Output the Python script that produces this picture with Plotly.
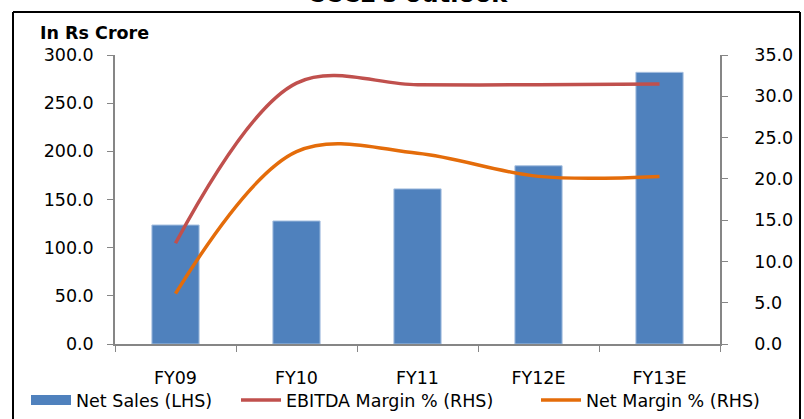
import plotly.graph_objects as go

# ---- data ----
categories = ["FY09", "FY10", "FY11", "FY12E", "FY13E"]
net_sales = [123.5, 127.7, 161.0, 185.0, 282.0]        # Rs crore (LHS)
ebitda_margin = [12.2, 31.6, 31.4, 31.4, 31.5]         # % (RHS)
net_margin = [6.1, 23.3, 23.1, 20.3, 20.3]             # % (RHS)
left_ticks = [0, 50, 100, 150, 200, 250, 300]
right_ticks = [0, 5, 10, 15, 20, 25, 30, 35]

# ---- page geometry (pixels) ----
W, H = 804, 419
L, R, T, B = 115, 84, 55, 75
PW, PH = W - L - R, H - T - B


def px_x(x):
    return (x - L) / PW


def px_y(y):
    return (H - B - y) / PH


FONT = "DejaVu Sans"
FS = 17.5
BLUE, RED, ORANGE = "#4F81BD", "#C0504D", "#E46C0A"
AXIS = "#868686"

fig = go.Figure()

fig.add_trace(go.Bar(
    x=categories, y=net_sales, name="Net Sales (LHS)",
    marker=dict(color=BLUE, line=dict(color="#A7C0E0", width=1)),
    showlegend=False, yaxis="y",
))
# legend swatch for the bars, drawn as a wide block
fig.add_trace(go.Scatter(
    x=[None], y=[None], mode="lines", name="Net Sales (LHS)",
    line=dict(color=BLUE, width=10), legend="legend", hoverinfo="skip",
))
fig.add_trace(go.Scatter(
    x=categories, y=ebitda_margin, name="EBITDA Margin % (RHS)",
    mode="lines", line=dict(color=RED, width=3.5, shape="spline", smoothing=1),
    yaxis="y2", legend="legend2",
))
fig.add_trace(go.Scatter(
    x=categories, y=net_margin, name="Net Margin % (RHS)",
    mode="lines", line=dict(color=ORANGE, width=3.5, shape="spline", smoothing=1),
    yaxis="y2", legend="legend3",
))

legend_common = dict(
    orientation="h", yanchor="middle", y=px_y(400), xanchor="left",
    bgcolor="rgba(0,0,0,0)", borderwidth=0, itemwidth=40,
    font=dict(family=FONT, size=FS, color="black"),
)

fig.update_layout(
    width=W, height=H,
    margin=dict(l=L, r=R, t=T, b=B, pad=0, autoexpand=False),
    paper_bgcolor="white", plot_bgcolor="white",
    font=dict(family=FONT, size=FS, color="black"),
    bargap=0.61,
    xaxis=dict(
        type="category", showgrid=False, zeroline=False,
        showline=True, linecolor=AXIS, linewidth=1.5,
        ticks="outside", tickson="boundaries", ticklen=6, tickcolor=AXIS,
        ticklabelstandoff=17,
        tickfont=dict(family=FONT, size=FS, color="black"),
    ),
    yaxis=dict(
        range=[0, 300], tickvals=left_ticks, tickformat=".1f",
        showgrid=False, zeroline=False,
        showline=True, linecolor=AXIS, linewidth=1.5,
        ticks="outside", ticklen=6, tickcolor=AXIS, ticklabelstandoff=10,
        tickfont=dict(family=FONT, size=FS, color="black"),
    ),
    yaxis2=dict(
        range=[0, 35], tickvals=right_ticks, tickformat=".1f",
        overlaying="y", side="right", showgrid=False, zeroline=False,
        showline=True, linecolor=AXIS, linewidth=1.5,
        ticks="outside", ticklen=6, tickcolor=AXIS, ticklabelstandoff=23,
        tickfont=dict(family=FONT, size=FS, color="black"),
    ),
    legend=dict(legend_common, x=px_x(26)),
    legend2=dict(legend_common, x=px_x(236)),
    legend3=dict(legend_common, x=px_x(536)),
)

# chart frame
frame_left, frame_right, frame_top = px_x(13), px_x(800), px_y(12)
frame_bottom = px_y(440)
line_style = dict(color="black", width=2)
fig.add_shape(type="line", xref="paper", yref="paper",
              x0=frame_left, x1=frame_right, y0=frame_top, y1=frame_top, line=line_style)
fig.add_shape(type="line", xref="paper", yref="paper",
              x0=frame_left, x1=frame_left, y0=frame_top, y1=frame_bottom, line=line_style)
fig.add_shape(type="line", xref="paper", yref="paper",
              x0=frame_right, x1=frame_right, y0=frame_top, y1=frame_bottom, line=line_style)

# heading above the frame
fig.add_annotation(
    text="<b>CCCL's outlook</b>", xref="paper", yref="paper",
    x=px_x(407), y=px_y(10), xanchor="center", yanchor="bottom", showarrow=False,
    font=dict(family=FONT, size=24, color="black"),
)
# unit label for the left axis
fig.add_annotation(
    text="<b>In Rs Crore</b>", xref="paper", yref="paper",
    x=px_x(38), y=px_y(33), xanchor="left", yanchor="middle", showarrow=False,
    font=dict(family=FONT, size=FS, color="black"),
)

fig.write_html("out.html")
